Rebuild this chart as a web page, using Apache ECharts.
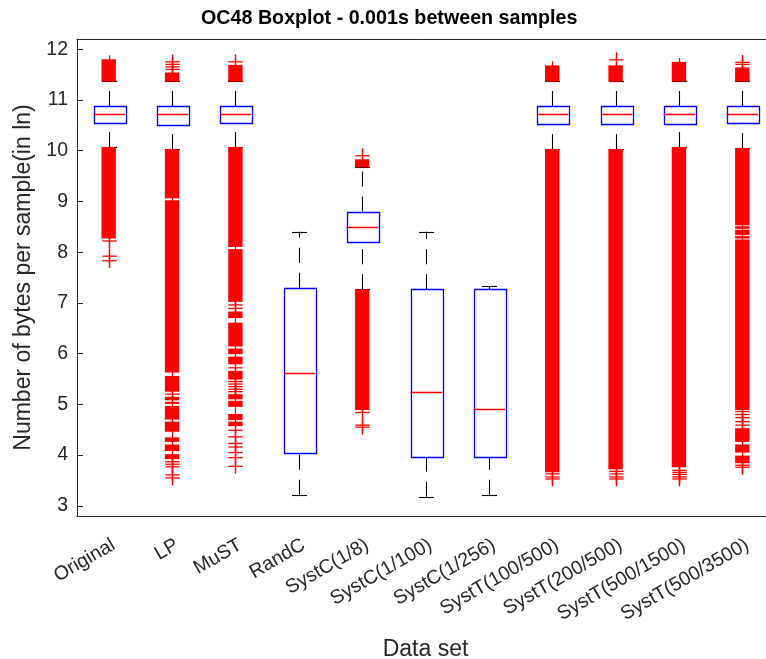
<!DOCTYPE html>
<html><head><meta charset="utf-8">
<script src="https://cdn.jsdelivr.net/npm/echarts@6/dist/echarts.min.js"></script>
<style>html,body{margin:0;padding:0;background:#fff}#c{width:766px;height:659px}</style>
</head><body><div id="c"></div>
<script>
// ---- data ----
const categories = ['Original','LP','MuST','RandC','SystC(1/8)','SystC(1/100)','SystC(1/256)','SystT(100/500)','SystT(200/500)','SystT(500/1500)','SystT(500/3500)'];
const whiskerLow  = [10.07, 10.03, 10.07, 3.22, 7.27, 3.18, 3.22, 10.03, 10.03, 10.07, 10.05];
const q1          = [10.55, 10.51, 10.55, 4.05, 8.20, 3.96, 3.96, 10.52, 10.52, 10.52, 10.55];
const median      = [10.72, 10.72, 10.72, 5.62, 8.50, 5.25, 4.90, 10.72, 10.72, 10.72, 10.72];
const q3          = [10.88, 10.88, 10.88, 7.30, 8.80, 7.27, 7.27, 10.88, 10.88, 10.88, 10.88];
const whiskerHigh = [11.38, 11.38, 11.38, 8.40, 9.67, 8.40, 7.33, 11.38, 11.38, 11.38, 11.38];
const yTicks = [3, 4, 5, 6, 7, 8, 9, 10, 11, 12];

// dense runs of outliers: [category index, low, high]
const outlierBands = [
  [0, 11.36, 11.80], [0, 8.27, 10.07],
  [1, 11.36, 11.54], [1, 9.06, 10.03], [1, 5.63, 9.02], [1, 5.25, 5.56], [1, 5.08, 5.15], [1, 5.01, 5.05],
  [1, 4.70, 4.97], [1, 4.46, 4.66], [1, 4.26, 4.35], [1, 4.08, 4.21], [1, 3.92, 4.02],
  [2, 11.36, 11.69], [2, 8.10, 10.07], [2, 7.02, 8.06], [2, 6.70, 6.83], [2, 6.14, 6.61], [2, 5.99, 6.10],
  [2, 5.79, 5.94], [2, 5.49, 5.66], [2, 5.10, 5.20], [2, 4.95, 5.07], [2, 4.69, 4.81], [2, 4.57, 4.66],
  [4, 9.67, 9.83], [4, 4.89, 7.27],
  [7, 11.36, 11.68], [7, 3.66, 10.03],
  [8, 11.36, 11.68], [8, 3.72, 10.03],
  [9, 11.36, 11.75], [9, 3.76, 10.07],
  [10, 11.36, 11.64], [10, 8.53, 10.05], [10, 8.46, 8.51], [10, 8.34, 8.44], [10, 8.27, 8.32], [10, 4.89, 8.25],
  [10, 4.26, 4.53], [10, 4.05, 4.21], [10, 3.84, 3.99]
];
// single outliers: [category index, value]
const outlierPoints = [
  [0, 8.22], [0, 7.92], [0, 7.83],
  [1, 11.60], [1, 11.65], [1, 11.70], [1, 11.75], [1, 5.20], [1, 3.87], [1, 3.82], [1, 3.77], [1, 3.61], [1, 3.55],
  [2, 11.75], [2, 6.96], [2, 6.89], [2, 5.72], [2, 5.45], [2, 5.40], [2, 5.35], [2, 5.30], [2, 5.25],
  [2, 4.49], [2, 4.36], [2, 4.23], [2, 4.16], [2, 4.05], [2, 3.95], [2, 3.78],
  [4, 9.90], [4, 4.84], [4, 4.59], [4, 4.55],
  [7, 3.63], [7, 3.57], [7, 3.53],
  [8, 11.79], [8, 3.68], [8, 3.63], [8, 3.57], [8, 3.53],
  [9, 3.70], [9, 3.66], [9, 3.62], [9, 3.57], [9, 3.53],
  [10, 11.74], [10, 11.70], [10, 4.86], [10, 4.80], [10, 4.74], [10, 4.66], [10, 4.59], [10, 3.80], [10, 3.76]
];

// ---- build ----
const FONT = 'Liberation Sans, Arial, sans-serif';
const AX = '#262626';
const boxData = categories.map((c, i) => [i, whiskerLow[i], q1[i], median[i], q3[i], whiskerHigh[i]]);
const stemData = [];
categories.forEach((c, i) => {
  const bands = outlierBands.filter(b => b[0] === i);
  const pts = outlierPoints.filter(p => p[0] === i);
  [[-1, v => v < q1[i]], [1, v => v > q3[i]]].forEach(([dir, test]) => {
    const vals = bands.flatMap(b => [b[1], b[2]]).concat(pts.map(p => p[1])).filter(test);
    if (!vals.length) return;
    const lo = Math.min(...vals), hi = Math.max(...vals);
    const extreme = dir < 0 ? lo : hi;
    const isPoint = pts.some(p => p[1] === extreme) ? 1 : 0;
    stemData.push([i, lo, hi, dir, isPoint]);
  });
});

const MH = 7.2; // half marker size (px)
const chart = echarts.init(document.getElementById('c'), null, { renderer: 'canvas' });
const crisp = v => Math.round(v) + 0.5;

chart.setOption({
  animation: false,
  backgroundColor: '#fff',
  title: {
    text: 'OC48 Boxplot - 0.001s between samples',
    left: 196, top: 4,
    textStyle: { fontSize: 19.7, fontWeight: 'bold', color: '#000', fontFamily: FONT }
  },
  grid: { left: 77, top: 39, width: 697, height: 477, containLabel: false, outerBoundsMode: 'none' },
  xAxis: [{
    type: 'category', data: categories, position: 'bottom', boundaryGap: true,
    axisLine: { lineStyle: { color: AX, width: 1 } },
    axisTick: { inside: true, alignWithLabel: true, length: 6, lineStyle: { color: AX } },
    axisLabel: { rotate: 30, interval: 0, fontSize: 19.5, color: AX, fontFamily: FONT, margin: 19, verticalAlign: 'top' },
    splitLine: { show: false },
    name: 'Data set', nameLocation: 'middle', nameGap: 122,
    nameTextStyle: { fontSize: 23, color: AX, fontFamily: FONT }
  }, {
    type: 'category', data: categories, position: 'top', boundaryGap: true,
    axisLine: { lineStyle: { color: AX, width: 1 } },
    axisTick: { inside: true, alignWithLabel: true, length: 6, lineStyle: { color: AX } },
    axisLabel: { show: false }, splitLine: { show: false }
  }],
  yAxis: {
    type: 'value', min: 2.8, max: 12.2,
    axisLine: { show: true, lineStyle: { color: AX, width: 1 } },
    axisTick: { show: true, inside: true, length: 6, customValues: yTicks, lineStyle: { color: AX } },
    axisLabel: { customValues: yTicks, fontSize: 19.5, color: AX, fontFamily: FONT, margin: 9 },
    splitLine: { show: false },
    name: 'Number of bytes per sample(in ln)', nameLocation: 'middle', nameGap: 40, nameRotate: 90,
    nameTextStyle: { fontSize: 23, color: AX, fontFamily: FONT }
  },
  series: [{
    type: 'custom', name: 'box', data: boxData, encode: { x: 0, y: [1, 2, 3, 4, 5] },
    renderItem: (params, api) => {
      const i = api.value(0);
      const bw = api.size([1, 0])[0];
      const hw = bw * 0.25, cw = 7.5;
      const x = crisp(api.coord([i, 0])[0]);
      const y = k => api.coord([i, api.value(k)])[1];
      const yWL = y(1), yQ1 = y(2), yMd = y(3), yQ3 = y(4), yWH = y(5);
      const dash = { stroke: '#000', lineWidth: 1.1, lineDash: [15, 10] };
      return { type: 'group', children: [
        { type: 'line', shape: { x1: x, y1: yQ3, x2: x, y2: yWH }, style: dash },
        { type: 'line', shape: { x1: x, y1: yWL, x2: x, y2: yQ1 }, style: dash },
        { type: 'line', shape: { x1: x - cw, y1: crisp(yWH), x2: x + cw, y2: crisp(yWH) }, style: { stroke: '#000', lineWidth: 1.1 } },
        { type: 'line', shape: { x1: x - cw, y1: crisp(yWL), x2: x + cw, y2: crisp(yWL) }, style: { stroke: '#000', lineWidth: 1.1 } },
        { type: 'rect', shape: { x: crisp(x - hw), y: crisp(yQ3), width: Math.round(2 * hw), height: Math.round(yQ1 - yQ3) }, style: { fill: 'none', stroke: '#0000ff', lineWidth: 1.3 } },
        { type: 'line', shape: { x1: x - hw, y1: crisp(yMd), x2: x + hw, y2: crisp(yMd) }, style: { stroke: '#ff0000', lineWidth: 1.3 } }
      ] };
    }
  }, {
    type: 'custom', name: 'stems', data: stemData, encode: { x: 0, y: [1, 2] },
    renderItem: (params, api) => {
      const i = api.value(0), dir = api.value(3), ext = api.value(4) ? MH : 4;
      const x = crisp(api.coord([i, 0])[0]);
      let yLo = api.coord([i, api.value(1)])[1];
      let yHi = api.coord([i, api.value(2)])[1];
      if (dir < 0) yLo += ext; else yHi -= ext;
      return { type: 'line', shape: { x1: x, y1: yLo, x2: x, y2: yHi }, style: { stroke: '#ff0000', lineWidth: 1.2 } };
    }
  }, {
    type: 'custom', name: 'outlierBands', data: outlierBands, encode: { x: 0, y: [1, 2] },
    renderItem: (params, api) => {
      const i = api.value(0);
      const x = api.coord([i, 0])[0];
      const yLo = api.coord([i, api.value(1)])[1];
      const yHi = api.coord([i, api.value(2)])[1];
      return { type: 'rect', shape: { x: x - MH, y: yHi, width: 2 * MH, height: Math.max(1, yLo - yHi) }, style: { fill: '#ff0000' } };
    }
  }, {
    type: 'custom', name: 'outliers', data: outlierPoints, encode: { x: 0, y: 1 },
    renderItem: (params, api) => {
      const i = api.value(0);
      const [px, py] = api.coord([i, api.value(1)]);
      const x = crisp(px);
      const st = { stroke: '#ff0000', lineWidth: 1.3 };
      return { type: 'group', children: [
        { type: 'line', shape: { x1: x - MH, y1: py, x2: x + MH, y2: py }, style: st },
        { type: 'line', shape: { x1: x, y1: py - MH, x2: x, y2: py + MH }, style: st }
      ] };
    }
  }]
});
</script>
</body></html>
